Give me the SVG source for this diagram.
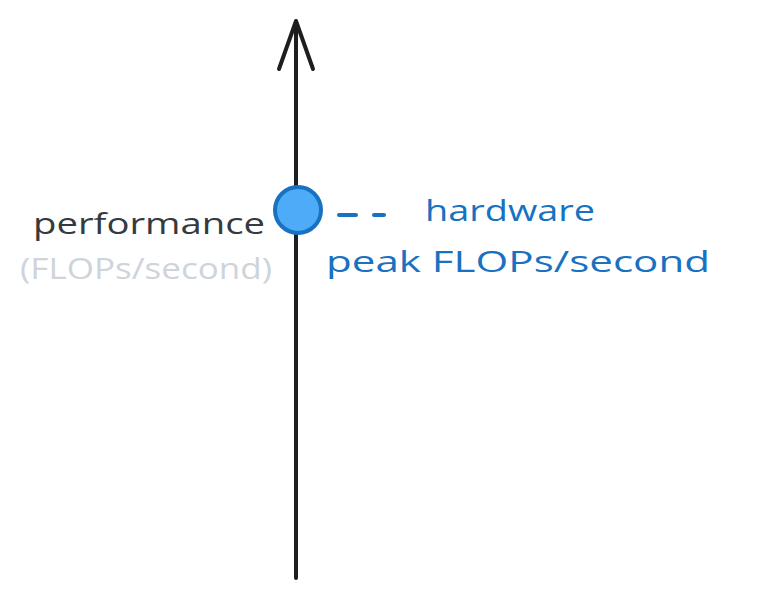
<svg xmlns="http://www.w3.org/2000/svg" width="760" height="600" viewBox="0 0 760 600">
<style>
.t{font-family:"Open Sans","Liberation Sans",sans-serif;font-size:30px}
.dark{fill:#343a40}
.grey{fill:#ced4da}
.blue{fill:#1971c2}
.axis{stroke:#1e1e1e;stroke-width:4;fill:none;stroke-linecap:round;stroke-linejoin:round}
</style>
<rect width="760" height="600" fill="#ffffff"/>
<g id="connectors">
<path class="axis" d="M296 578 L296 22"/>
<path class="axis" d="M279 69 L296 21 L313 69"/>
<path d="M339 215 L356 215 M374 215 L384 215" stroke="#1971c2" stroke-width="4" stroke-linecap="round" fill="none"/>
</g>
<g id="node-point">
<circle cx="298" cy="210" r="23" fill="#4dabf7" stroke="#1971c2" stroke-width="4"/>
</g>
<g id="label-performance">
<text class="t dark" x="265" y="234" text-anchor="end" textLength="232" lengthAdjust="spacingAndGlyphs">performance</text>
<text class="t grey" x="20" y="279" textLength="252" lengthAdjust="spacingAndGlyphs">(FLOPs/second)</text>
</g>
<g id="label-hardware">
<text class="t blue" x="425" y="221" textLength="170" lengthAdjust="spacingAndGlyphs">hardware</text>
<text class="t blue" x="326" y="272" textLength="384" lengthAdjust="spacingAndGlyphs">peak FLOPs/second</text>
</g>
</svg>
